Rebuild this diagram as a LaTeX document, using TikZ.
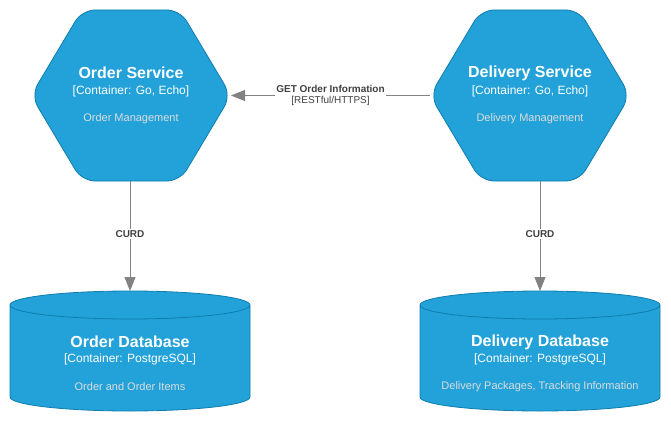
\documentclass[tikz,border=0pt]{standalone}
\usepackage{fontspec}
\setmainfont{Liberation Sans}
\usepackage{xcolor}
\usepackage{tikz}
\usetikzlibrary{positioning,arrows.meta}

\definecolor{boxblue}{HTML}{23A2D9}
\definecolor{boxline}{HTML}{0E7DAD}
\definecolor{desccol}{HTML}{DCDCDC}
\definecolor{relcol}{HTML}{828282}
\definecolor{labcol}{HTML}{404040}

\begin{document}
\begin{tikzpicture}[x=1pt,y=1pt,
		hexbox/.style={minimum width=200pt, minimum height=171pt, inner sep=0pt, outer sep=0pt},
		hexpath/.style={rounded corners=13pt, fill=boxblue, draw=boxline, line width=0.8pt},
		title/.style={text=white, font=\fontsize{16}{18}\selectfont\bfseries},
		tech/.style={text=white, font=\fontsize{12}{14}\selectfont},
		desc/.style={text=desccol, font=\fontsize{11}{13}\selectfont},
		rel/.style={draw=relcol, line width=0.9pt, -{Triangle[length=14pt,width=11pt]}},
		rellabel/.style={fill=white, text=labcol, inner sep=1.5pt, align=center, font=\fontsize{10}{12}\selectfont\bfseries}
	]
				\useasboundingbox (0,0) rectangle (671,421);
				
				\node[hexbox] (oserv) at (131,325.5) {};
				\node[hexbox] (dserv) at (530,325.5) {};
				\draw[hexpath] (oserv.west) -- ([xshift=51pt]oserv.north west) -- ([xshift=-51pt]oserv.north east) -- (oserv.east) -- ([xshift=-51pt]oserv.south east) -- ([xshift=51pt]oserv.south west) -- cycle;
				\draw[hexpath] (dserv.west) -- ([xshift=51pt]dserv.north west) -- ([xshift=-51pt]dserv.north east) -- (dserv.east) -- ([xshift=-51pt]dserv.south east) -- ([xshift=51pt]dserv.south west) -- cycle;
				
				\node[title] (otitle) at (131,348) {Order Service};
				\node[tech] (otech) at (131,330) {[Container: Go, Echo]};
				\node[desc] (odesc) at (131,302) {Order Management};
				
				\node[title] (dtitle) at (530,348) {Delivery Service};
				\node[tech] (dtech) at (530,330) {[Container: Go, Echo]};
				\node[desc] (ddesc) at (530,302) {Delivery Management};
				
				\fill[boxblue] (10,116) -- (10,24) arc[start angle=180,end angle=360,x radius=120pt,y radius=14pt] -- (250,116) arc[start angle=0,end angle=180,x radius=120pt,y radius=14pt] -- cycle;
				\draw[boxline, line width=0.8pt] (10,116) -- (10,24) arc[start angle=180,end angle=360,x radius=120pt,y radius=14pt] -- (250,116) arc[start angle=0,end angle=360,x radius=120pt,y radius=14pt];
				\coordinate (odbtop) at (130,130);
				
				\fill[boxblue] (420,116) -- (420,24) arc[start angle=180,end angle=360,x radius=120pt,y radius=14pt] -- (660,116) arc[start angle=0,end angle=180,x radius=120pt,y radius=14pt] -- cycle;
				\draw[boxline, line width=0.8pt] (420,116) -- (420,24) arc[start angle=180,end angle=360,x radius=120pt,y radius=14pt] -- (660,116) arc[start angle=0,end angle=360,x radius=120pt,y radius=14pt];
				\coordinate (ddbtop) at (540,130);
				
				\node[title] (odbtitle) at (130,79) {Order Database};
				\node[tech] (odbtech) at (130,62) {[Container: PostgreSQL]};
				\node[desc] (odbdesc) at (130,34) {Order and Order Items};
				
				\node[title] (ddbtitle) at (540,79) {Delivery Database};
				\node[tech] (ddbtech) at (540,62) {[Container: PostgreSQL]};
				\node[desc] (ddbdesc) at (540,34) {Delivery Packages, Tracking Information};
				
				\draw[rel] (dserv.west) -- node[rellabel] (getlab) {GET Order Information\\[-1.5pt]{\fontsize{10}{11}\selectfont\mdseries [RESTful/HTTPS]}} (oserv.east);
				\draw[rel] (oserv.south -| odbtop) -- node[rellabel, pos=0.48] (ocurd) {CURD} (odbtop);
				\draw[rel] (dserv.south -| ddbtop) -- node[rellabel, pos=0.48] (dcurd) {CURD} (ddbtop);
			\end{tikzpicture}
\end{document}
